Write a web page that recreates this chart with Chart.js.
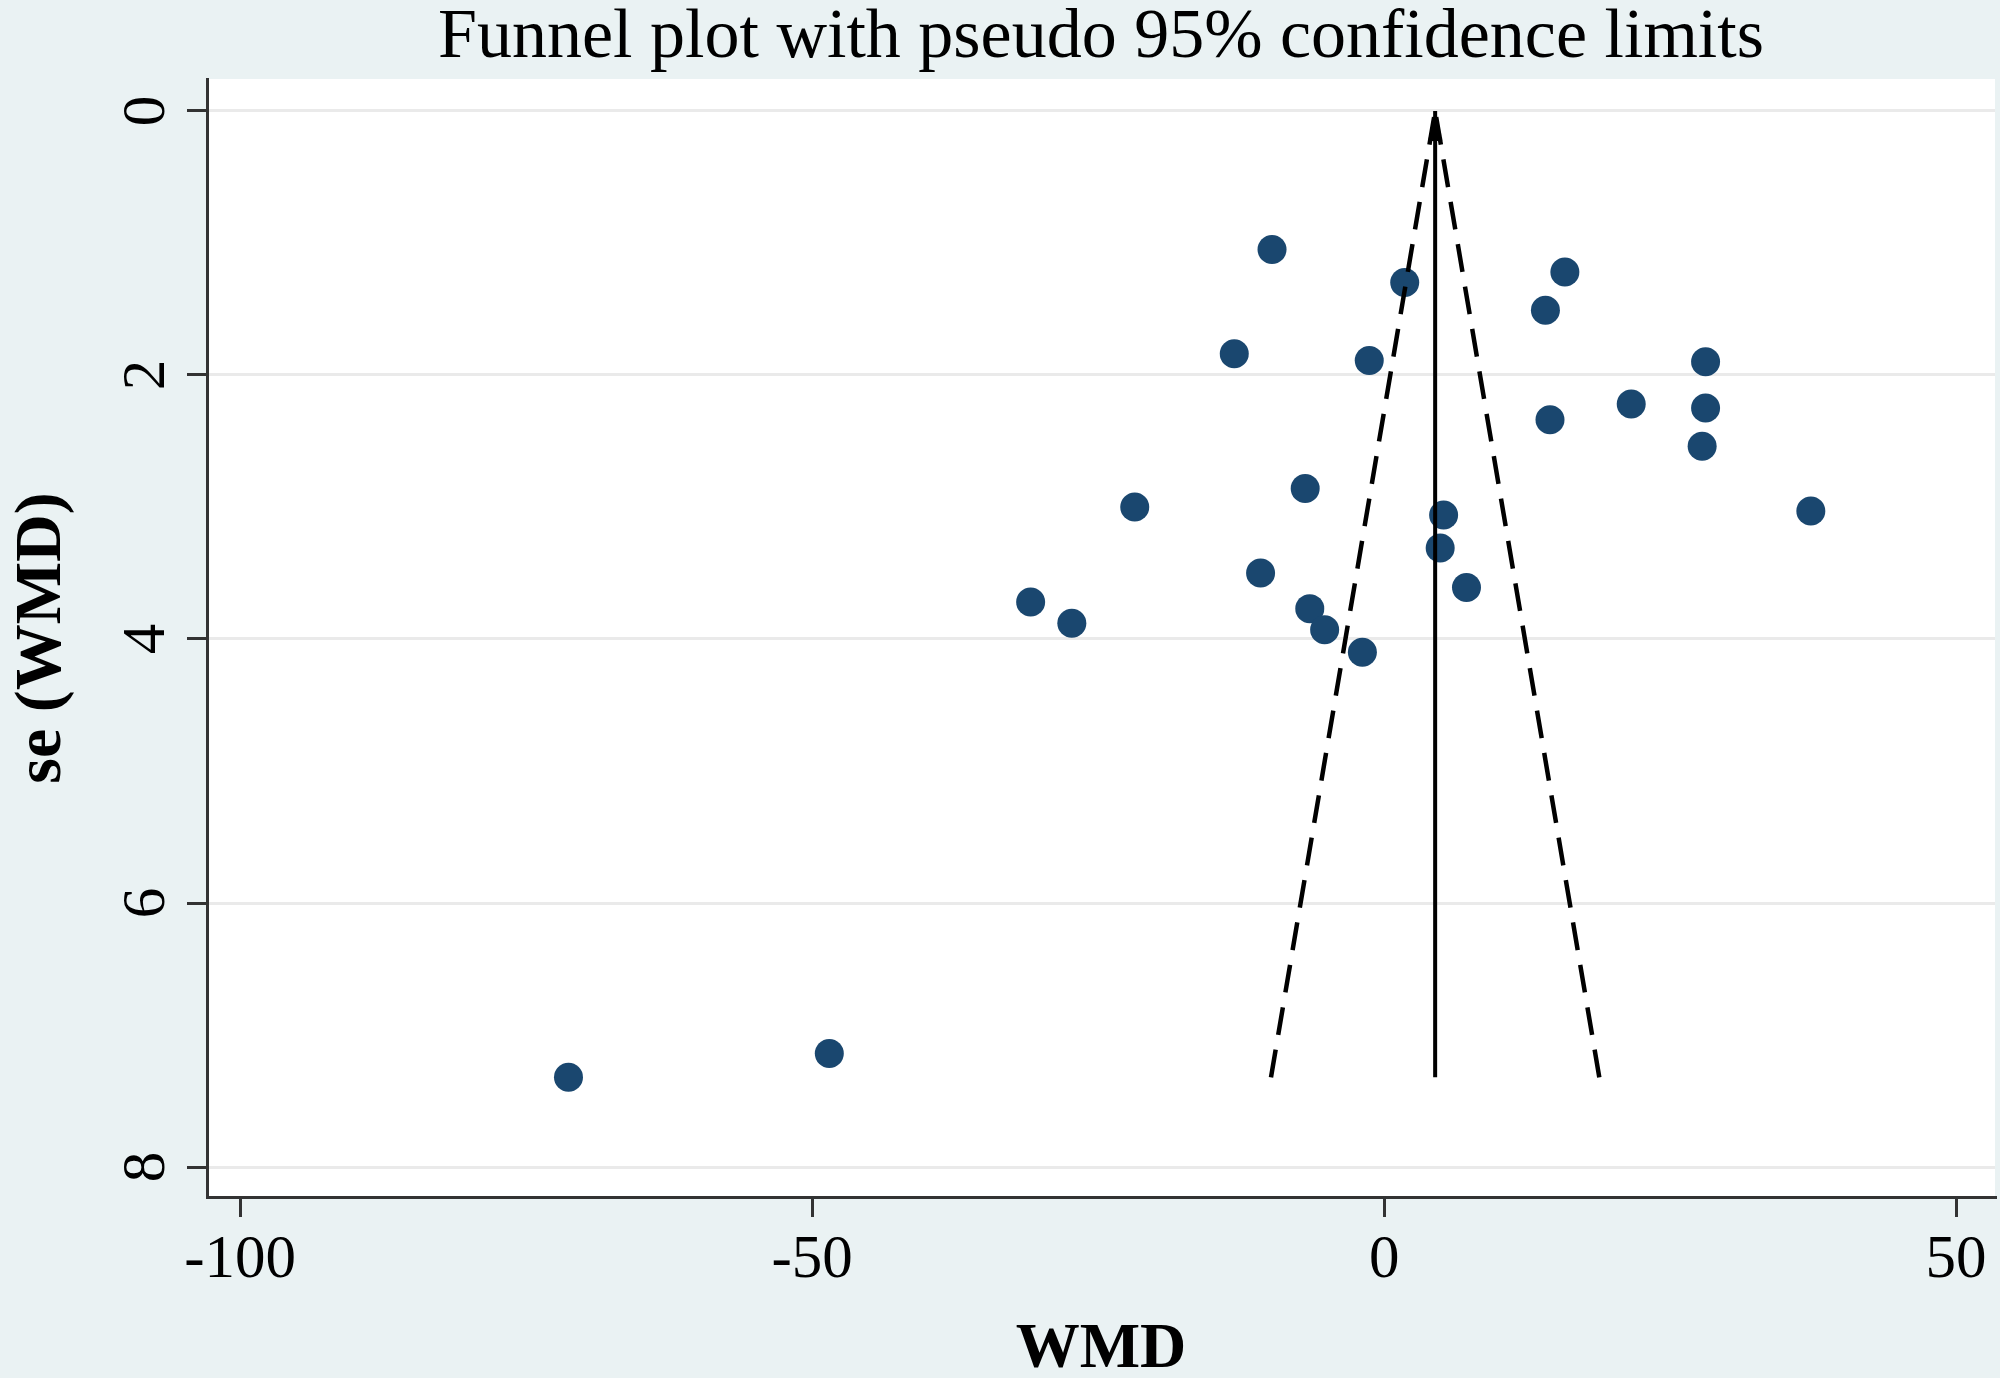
<!DOCTYPE html>
<html>
<head>
<meta charset="utf-8">
<script src="https://cdn.jsdelivr.net/npm/chart.js@4.4.1/dist/chart.umd.min.js"></script>
<style>
html,body{margin:0;padding:0;background:#eaf2f3;}
canvas{display:block;}
</style>
</head>
<body>
<canvas id="c" width="2000" height="1378" style="width:2000px;height:1378px"></canvas>
<script>
// ---- data ----
const wmd   = [-9.8, 1.8, 15.8, 14.1, -13.1, -1.3, 28.1, 21.6, 28.1, 14.5, 27.8, -6.9, -21.8, 37.3, 5.2, 4.9, -10.8, 7.2, -30.9, -6.5, -27.3, -5.2, -1.9, -48.5, -71.3];
const seWmd = [1.05, 1.30, 1.22, 1.51, 1.84, 1.89, 1.90, 2.22, 2.25, 2.34, 2.54, 2.86, 3.00, 3.03, 3.06, 3.31, 3.50, 3.61, 3.72, 3.77, 3.88, 3.93, 4.10, 7.14, 7.32];
const xTicks = [-100, -50, 0, 50];
const yTicks = [0, 2, 4, 6, 8];
const funnelSe    = [7.32, 0];
const lowerLimitX = [-9.89, 4.46];
const upperLimitX = [18.81, 4.46];
const pooledX     = [4.46, 4.46];
const titleText = 'Funnel plot with pseudo 95% confidence limits';
const xTitle = 'WMD';
const yTitle = 'se (WMD)';

const SERIF = '"Liberation Serif", "Times New Roman", serif';
const pts = (xs, ys) => xs.map((x, i) => ({x: x, y: ys[i]}));

// arrow head for the pooled-estimate line
const arrow = document.createElement('canvas');
arrow.width = 16; arrow.height = 62;
(function(){
  const a = arrow.getContext('2d');
  a.fillStyle = '#000';
  a.beginPath(); a.moveTo(8, 31); a.lineTo(15, 61); a.lineTo(1, 61); a.closePath(); a.fill();
})();

const bgPlugin = {
  id: 'bg',
  beforeDraw(chart) {
    const {ctx, chartArea: ca} = chart;
    ctx.save();
    ctx.fillStyle = '#eaf2f3';
    ctx.fillRect(0, 0, chart.width, chart.height);
    ctx.fillStyle = '#ffffff';
    ctx.fillRect(ca.left, ca.top, ca.right - ca.left, ca.bottom - ca.top);
    ctx.restore();
  }
};

const yLabelPlugin = {
  id: 'ylabels',
  afterDraw(chart) {
    const s = chart.scales.y;
    const ctx = chart.ctx;
    ctx.save();
    ctx.font = '61px ' + SERIF;
    ctx.fillStyle = '#000';
    ctx.textAlign = 'center';
    ctx.textBaseline = 'middle';
    s.ticks.forEach(t => {
      const py = s.getPixelForValue(t.value);
      ctx.save();
      ctx.translate(148, py);
      ctx.rotate(-Math.PI / 2);
      ctx.fillText(String(t.value), 0, 0);
      ctx.restore();
    });
    ctx.restore();
  }
};

const lineBase = {
  type: 'line', showLine: true, fill: false, tension: 0,
  borderColor: '#000', borderWidth: 4.5, pointRadius: 0, pointHoverRadius: 0, order: 1
};

new Chart(document.getElementById('c'), {
  type: 'scatter',
  data: {
    datasets: [
      Object.assign({}, lineBase, {label: 'lower', data: pts(lowerLimitX, funnelSe), borderDash: [28, 15]}),
      Object.assign({}, lineBase, {label: 'upper', data: pts(upperLimitX, funnelSe), borderDash: [28, 15]}),
      Object.assign({}, lineBase, {label: 'pooled', data: pts(pooledX, funnelSe), borderWidth: 4,
        pointStyle: ['circle', arrow], pointRadius: [0, 5], pointBackgroundColor: '#000', pointBorderWidth: 0}),
      {label: 'studies', data: pts(wmd, seWmd), backgroundColor: '#1a476f', borderColor: '#1a476f',
        borderWidth: 0, pointRadius: 14.5, pointHoverRadius: 14.5, order: 2}
    ]
  },
  options: {
    responsive: false,
    devicePixelRatio: 1,
    animation: false,
    layout: {autoPadding: false, padding: {top: 0, left: 0, right: 5, bottom: 0}},
    plugins: {
      legend: {display: false},
      tooltip: {enabled: false},
      title: {display: true, text: titleText, color: '#000', fullSize: false,
        font: {family: SERIF, size: 70, weight: 'normal', lineHeight: 1},
        padding: {top: 4, bottom: 5}}
    },
    scales: {
      x: {
        type: 'linear', min: -102.9, max: 53.4,
        afterBuildTicks: s => { s.ticks = xTicks.map(v => ({value: v})); },
        afterFit: s => { s.height = 181; s.paddingLeft = 0; s.paddingRight = 0; },
        grid: {display: true, drawOnChartArea: false, drawTicks: true, tickLength: 20,
               tickColor: '#333', tickWidth: 3, color: '#333', lineWidth: 3},
        border: {display: true, color: '#333', width: 3},
        ticks: {font: {family: SERIF, size: 61}, color: '#000', padding: 7,
                maxRotation: 0, minRotation: 0, callback: v => String(v)},
        title: {display: true, text: xTitle, color: '#000',
                font: {family: SERIF, size: 64, weight: 'bold', lineHeight: 0.85},
                padding: {top: 0, bottom: 0}}
      },
      y: {
        type: 'linear', reverse: true, min: -0.242, max: 8.227,
        afterBuildTicks: s => { s.ticks = yTicks.map(v => ({value: v})); },
        afterFit: s => { s.width = 207; s.paddingTop = 0; s.paddingBottom = 0; },
        grid: {color: '#eaeaea', lineWidth: 3, drawTicks: true, tickLength: 20,
               tickColor: '#333', tickWidth: 3},
        border: {display: true, color: '#333', width: 3},
        ticks: {display: false},
        title: {display: true, text: yTitle, color: '#000',
                font: {family: SERIF, size: 66, weight: 'bold', lineHeight: 1},
                padding: {top: 10, bottom: 0}}
      }
    }
  },
  plugins: [bgPlugin, yLabelPlugin]
});
</script>
</body>
</html>
